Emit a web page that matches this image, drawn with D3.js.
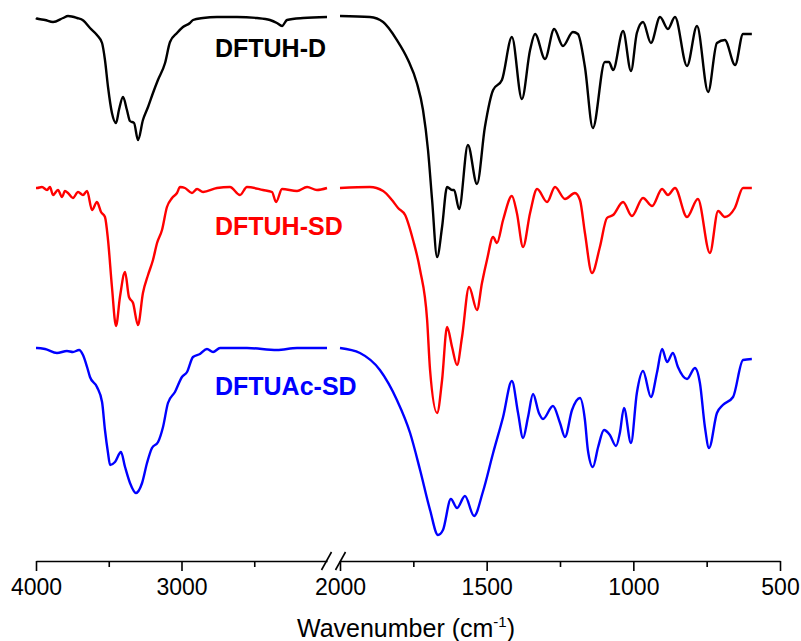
<!DOCTYPE html>
<html>
<head>
<meta charset="utf-8">
<script src="https://cdn.jsdelivr.net/npm/d3@7"></script>
<style>
  html, body { margin: 0; padding: 0; background: #fff; }
  svg { display: block; font-family: Arial, "Liberation Sans", sans-serif; }
</style>
</head>
<body>
<svg id="svg" width="801" height="641"></svg>
<script>
// wavenumber ranges of the two panels of the broken axis (cm-1)
const highRange = [4000, 2000];
const lowRange = [2000, 500];
const majorTicks = [4000, 3000, 2000, 1500, 1000, 500];
const minorTicks = [3500, 2500, 1750, 1250, 750];

const seriesNames = ['DFTUH-D', 'DFTUH-SD', 'DFTUAc-SD'];

// [wavenumber, transmittance (a.u., offset stacked)]
const dftuhDHigh = [
  [4000, 108.6], [3995, 108.5], [3938, 108.2], [3883, 107.8], [3814, 108.6], [3780, 109.0],
  [3718, 108.6], [3675, 108.1], [3629, 106.6], [3581, 105.2], [3546, 103.6], [3526, 100.2],
  [3505, 94.8], [3478, 89.6], [3450, 87.6], [3430, 90.2], [3402, 92.8], [3375, 90.2],
  [3354, 88.0], [3326, 87.6], [3299, 84.2], [3265, 88.2], [3230, 90.8], [3196, 93.6],
  [3162, 96.2], [3113, 99.6], [3079, 103.8], [3031, 105.6], [2990, 106.8], [2942, 107.6],
  [2921, 108.2], [2852, 108.6], [2756, 108.8], [2619, 108.8], [2481, 108.6], [2392, 108.2],
  [2344, 107.6], [2309, 107.0], [2275, 108.2], [2165, 108.6], [2000, 108.8]
];
const dftuhDLow = [
  [2000, 109.0], [1898, 108.8], [1853, 107.8], [1806, 104.2], [1768, 100.2], [1738, 95.6],
  [1717, 90.2], [1700, 82.2], [1686, 72.2], [1669, 60.8], [1652, 66.8], [1635, 74.8],
  [1618, 74.2], [1611, 74.2], [1594, 70.4], [1564, 83.2], [1533, 75.4], [1506, 86.8],
  [1478, 94.2], [1448, 96.2], [1414, 104.8], [1380, 92.4], [1352, 102.2], [1335, 105.4],
  [1301, 100.4], [1270, 106.4], [1240, 103.0], [1206, 105.8], [1189, 105.4], [1165, 98.8],
  [1138, 86.6], [1097, 99.8], [1083, 99.8], [1069, 98.2], [1035, 106.0], [1008, 98.0],
  [988, 105.6], [967, 107.8], [940, 103.6], [909, 108.8], [882, 106.4], [858, 108.8],
  [817, 99.0], [783, 107.0], [745, 93.8], [715, 103.6], [688, 104.2], [653, 99.2],
  [626, 105.4], [596, 105.4]
];

const dftuhSDHigh = [
  [4000, 74.6], [3993, 74.6], [3959, 74.8], [3924, 74.2], [3904, 74.8], [3883, 73.2],
  [3849, 74.2], [3821, 72.8], [3801, 74.0], [3780, 73.6], [3746, 72.6], [3711, 73.8],
  [3677, 73.2], [3649, 74.0], [3615, 70.2], [3581, 71.8], [3553, 69.8], [3526, 68.8],
  [3505, 64.2], [3478, 54.8], [3450, 47.0], [3423, 52.8], [3388, 57.8], [3361, 52.8],
  [3333, 51.6], [3299, 47.2], [3265, 53.6], [3230, 57.2], [3196, 60.2], [3168, 63.6],
  [3134, 66.2], [3100, 70.8], [3065, 72.6], [3031, 73.6], [3010, 74.8], [2976, 74.6],
  [2928, 73.6], [2893, 74.4], [2852, 73.8], [2756, 74.6], [2667, 74.8], [2598, 73.2],
  [2550, 74.8], [2440, 74.2], [2378, 73.8], [2350, 71.8], [2309, 74.4], [2206, 74.0],
  [2137, 74.8], [2069, 74.2], [2000, 74.6]
];
const dftuhSDLow = [
  [2000, 74.6], [1898, 74.8], [1853, 74.0], [1823, 72.2], [1802, 70.6], [1778, 69.2],
  [1751, 64.2], [1727, 58.2], [1703, 48.2], [1693, 38.2], [1669, 29.6], [1652, 36.2],
  [1635, 46.8], [1618, 42.8], [1601, 39.2], [1584, 44.8], [1560, 54.8], [1533, 50.2],
  [1516, 55.6], [1499, 60.2], [1478, 64.8], [1465, 63.6], [1444, 68.2], [1414, 73.0],
  [1397, 69.6], [1376, 62.8], [1352, 69.6], [1328, 74.4], [1294, 71.8], [1267, 74.8],
  [1233, 72.4], [1199, 73.6], [1182, 72.2], [1165, 65.6], [1141, 57.6], [1114, 62.8],
  [1090, 68.6], [1069, 69.2], [1035, 71.8], [1005, 69.0], [967, 72.6], [936, 71.0],
  [902, 74.4], [882, 73.2], [858, 74.6], [817, 68.8], [780, 72.4], [739, 61.6],
  [711, 70.0], [688, 68.8], [654, 70.6], [626, 74.6], [596, 74.6]
];

const dftuacSDHigh = [
  [4000, 42.6], [3993, 42.6], [3938, 42.4], [3856, 41.6], [3787, 42.0], [3746, 41.8],
  [3704, 42.2], [3677, 41.2], [3649, 38.8], [3629, 36.8], [3581, 34.8], [3546, 31.8],
  [3526, 26.2], [3505, 21.6], [3491, 19.2], [3457, 19.8], [3416, 21.8], [3388, 18.8],
  [3354, 15.6], [3313, 13.6], [3271, 15.6], [3237, 19.6], [3203, 22.6], [3161, 23.8],
  [3127, 26.8], [3093, 31.6], [3045, 33.8], [2997, 36.8], [2962, 37.8], [2921, 40.8],
  [2873, 41.4], [2825, 42.4], [2783, 41.8], [2735, 42.6], [2550, 42.6], [2344, 42.2],
  [2206, 42.6], [2000, 42.6]
];
const dftuacSDLow = [
  [2000, 42.6], [1932, 41.6], [1864, 38.2], [1806, 32.2], [1761, 25.6], [1727, 18.2],
  [1693, 10.2], [1666, 5.2], [1649, 6.2], [1622, 12.4], [1601, 10.6], [1574, 13.0],
  [1543, 9.0], [1513, 13.8], [1478, 21.6], [1444, 28.8], [1414, 36.0], [1393, 29.6],
  [1376, 24.6], [1359, 28.8], [1342, 33.4], [1322, 29.6], [1308, 28.4], [1274, 31.0],
  [1250, 27.6], [1233, 24.8], [1209, 30.2], [1182, 32.6], [1165, 28.2], [1155, 22.2],
  [1138, 18.8], [1120, 22.8], [1100, 26.2], [1080, 25.2], [1059, 23.0], [1046, 25.6],
  [1032, 30.6], [1008, 23.6], [988, 33.6], [967, 38.0], [940, 32.8], [919, 37.8],
  [902, 42.4], [885, 39.8], [865, 41.6], [848, 38.8], [817, 36.4], [790, 38.6],
  [773, 35.6], [756, 26.8], [742, 22.6], [715, 29.6], [695, 31.2], [660, 32.8],
  [626, 40.2], [596, 40.4]
];

const seriesColors = ['#000000', '#ff0000', '#0000ff'];

window.onload = function() {
  drawChart();
};

const drawChart = function() {
  const svg = d3.select('#svg');
  const axisY = 561;

  const xHigh = d3.scaleLinear().domain(highRange).range([36, 327]);
  const xLow = d3.scaleLinear().domain(lowRange).range([340, 780]);
  const yScale = d3.scaleLinear().domain([0, 110]).range([axisY, 11]);

  const series = [
    { name: seriesNames[0], high: dftuhDHigh, low: dftuhDLow, labelY: 100.8 },
    { name: seriesNames[1], high: dftuhSDHigh, low: dftuhSDLow, labelY: 65.2 },
    { name: seriesNames[2], high: dftuacSDHigh, low: dftuacSDLow, labelY: 33.2 }
  ];

  const lineHigh = d3.line()
    .x(d => xHigh(d[0]))
    .y(d => yScale(d[1]))
    .curve(d3.curveMonotoneX);
  const lineLow = d3.line()
    .x(d => xLow(d[0]))
    .y(d => yScale(d[1]))
    .curve(d3.curveMonotoneX);

  const curves = svg.append('g').classed('curves', true);
  series.forEach((s, i) => {
    curves.append('path')
      .datum(s.high)
      .attr('d', lineHigh)
      .style('fill', 'none')
      .style('stroke', seriesColors[i])
      .style('stroke-width', 2.4)
      .style('stroke-linejoin', 'round');
    curves.append('path')
      .datum(s.low)
      .attr('d', lineLow)
      .style('fill', 'none')
      .style('stroke', seriesColors[i])
      .style('stroke-width', 2.4)
      .style('stroke-linejoin', 'round');

    svg.append('text')
      .attr('x', xHigh(2770))
      .attr('y', yScale(s.labelY))
      .style('font-size', '25px')
      .style('font-weight', 'bold')
      .style('fill', seriesColors[i])
      .text(s.name);
  });

  // broken x axis
  const drawAxis = function(scale, ticks) {
    const axis = d3.axisBottom(scale)
      .tickValues(ticks)
      .tickSizeOuter(0)
      .tickSizeInner(10)
      .tickPadding(8)
      .tickFormat(d => (majorTicks.includes(d) ? d : ''));
    const g = svg.append('g')
      .classed('axis', true)
      .attr('transform', 'translate(0,' + axisY + ')')
      .call(axis);
    g.select('.domain').style('stroke', '#000').style('stroke-width', 1.6);
    g.selectAll('.tick line')
      .style('stroke', '#000')
      .style('stroke-width', 1.6)
      .attr('y2', d => (majorTicks.includes(d) ? 10 : 6));
    g.selectAll('.tick text')
      .style('font-size', '23px')
      .style('font-family', 'Arial, "Liberation Sans", sans-serif')
      .style('fill', '#000');
  };

  drawAxis(xHigh, [4000, 3500, 3000, 2500]);
  drawAxis(xLow, [2000, 1750, 1500, 1250, 1000, 750, 500]);

  // break marks
  const gap = (xHigh.range()[1] + xLow.range()[0]) / 2;
  const breakG = svg.append('g').classed('break', true);
  [-7, 7].forEach(dx => {
    breakG.append('line')
      .attr('x1', gap + dx - 5)
      .attr('y1', axisY + 9)
      .attr('x2', gap + dx + 5)
      .attr('y2', axisY - 9)
      .style('stroke', '#000')
      .style('stroke-width', 1.6);
  });

  // axis title
  const title = svg.append('text')
    .attr('x', 406)
    .attr('y', 637)
    .attr('text-anchor', 'middle')
    .style('font-size', '25px')
    .style('fill', '#000');
  title.append('tspan').text('Wavenumber (cm');
  title.append('tspan')
    .attr('dy', -10)
    .style('font-size', '15px')
    .text('-1');
  title.append('tspan')
    .attr('dy', 10)
    .text(')');
};
</script>
</body>
</html>
